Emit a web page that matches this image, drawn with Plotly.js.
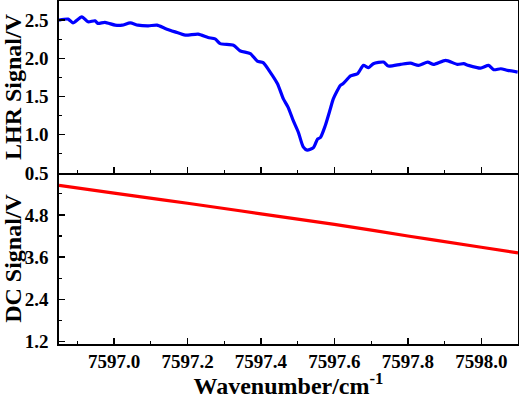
<!DOCTYPE html>
<html><head><meta charset="utf-8">
<script src="https://cdn.plot.ly/plotly-3.0.1.min.js"></script>
<style>html,body{margin:0;padding:0;background:#fff;}#chart{width:519px;height:399px;}</style>
</head><body><div id="chart"></div>
<script>
const lhrWavenumber = [7596.850,7596.875,7596.888,7596.912,7596.929,7596.948,7596.956,7596.975,7597.003,7597.022,7597.044,7597.065,7597.093,7597.117,7597.139,7597.166,7597.194,7597.229,7597.256,7597.275,7597.289,7597.325,7597.344,7597.371,7597.390,7597.406,7597.425,7597.445,7597.461,7597.474,7597.488,7597.502,7597.515,7597.526,7597.543,7597.554,7597.562,7597.575,7597.589,7597.597,7597.616,7597.624,7597.644,7597.663,7597.679,7597.693,7597.706,7597.734,7597.747,7597.780,7597.807,7597.829,7597.854,7597.870,7597.903,7597.935,7597.952,7597.965,7597.998,7598.020,7598.034,7598.053,7598.072,7598.099];
const lhrSignal = [2.500,2.513,2.464,2.543,2.478,2.491,2.457,2.470,2.434,2.434,2.464,2.434,2.425,2.434,2.391,2.346,2.303,2.316,2.272,2.255,2.193,2.171,2.096,2.062,1.964,1.943,1.820,1.667,1.470,1.359,1.184,1.030,0.842,0.799,0.833,0.943,0.964,1.118,1.340,1.470,1.645,1.670,1.770,1.799,1.908,1.878,1.930,1.951,1.899,1.921,1.938,1.908,1.951,1.921,1.974,1.921,1.930,1.908,1.872,1.908,1.851,1.864,1.842,1.820];
const dcWavenumber = [7596.85,7597.0,7597.2,7597.4,7597.6,7597.8,7598.0,7598.1];
const dcSignal = [5.64,5.42,5.13,4.83,4.53,4.20,3.88,3.72];

function tickFont(){ return {family:'Liberation Serif', size:19, color:'#000'}; }
function titleFont(){ return {family:'Liberation Serif', size:24, color:'#000'}; }
function minorT(d){ return {dtick:d, ticks:'inside', ticklen:3, tickcolor:'#000', tickwidth:1.2}; }
function ax(extra){
  return Object.assign({showline:true, linecolor:'#000', linewidth:1.6, ticks:'inside',
    ticklen:6, tickwidth:1.4, tickcolor:'#000', showgrid:false, zeroline:false, tickfont:tickFont(),
    tickprefix:'<b>', ticksuffix:'</b>'}, extra);
}

const data = [
  {x:lhrWavenumber, y:lhrSignal, xaxis:'x2', yaxis:'y2', mode:'lines', line:{color:'#0000FF', width:3.2, shape:'spline', smoothing:0.6}},
  {x:dcWavenumber, y:dcSignal, xaxis:'x', yaxis:'y', mode:'lines', line:{color:'#FF0000', width:3.2, shape:'spline'}}
];
const split = (344-173)/343;
const layout = {
  width:519, height:399, margin:{l:59, r:1, t:1, b:55},
  font:{family:'Liberation Serif', color:'#000'},
  paper_bgcolor:'#fff', plot_bgcolor:'#fff', showlegend:false,
  xaxis: ax({range:[7596.85,7598.1], dtick:0.2, tick0:7597.0, tickformat:'.1f', mirror:false,
    minor:minorT(0.1), anchor:'y',
    title:{text:'<b>Wavenumber/cm<sup>-1</sup></b>', font:titleFont(), standoff:4}}),
  xaxis2: ax({range:[7596.85,7598.1], dtick:0.2, tick0:7597.0, showticklabels:false, mirror:true,
    minor:minorT(0.1), anchor:'y2', matches:'x'}),
  yaxis: ax({domain:[0,split], range:[1.13,5.99], dtick:1.2, tick0:0, tickformat:'.1f', mirror:true,
    minor:minorT(0.6), anchor:'x', ticklabelstandoff:5,
    title:{text:'<b>DC Signal/V</b>', font:titleFont(), standoff:4}}),
  yaxis2: ax({domain:[split,1], range:[0.5,2.75], dtick:0.5, tick0:0, tickformat:'.1f', mirror:true,
    minor:minorT(0.25), anchor:'x2', ticklabelstandoff:5,
    title:{text:'<b>LHR Signal/V</b>', font:titleFont(), standoff:4}})
};
Plotly.newPlot('chart', data, layout, {displayModeBar:false, staticPlot:true});
</script>
</body></html>
